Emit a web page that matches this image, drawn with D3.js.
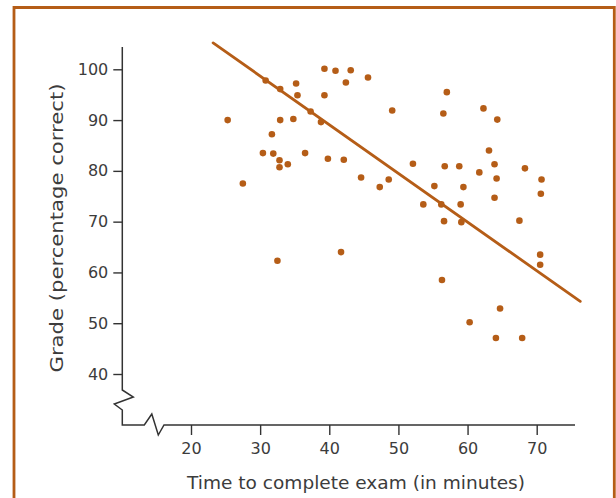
<!DOCTYPE html>
<html><head><meta charset="utf-8">
<script src="https://cdn.jsdelivr.net/npm/d3@7"></script>
<style>
html,body{margin:0;padding:0;background:#fff;}
svg{display:block;}
text{font-family:"DejaVu Sans",sans-serif;fill:#3c3c3c;}
</style></head>
<body>
<script>
const timeMinutes = [25.3,27.5,30.4,30.8,31.7,31.9,32.5,32.8,32.8,32.9,32.9,34.0,34.8,35.2,35.4,36.5,37.3,38.8,39.3,39.3,39.8,40.9,41.7,42.1,42.4,43.1,44.6,45.6,47.3,48.6,49.1,52.1,53.6,55.2,56.2,56.3,56.5,56.6,56.7,57.0,58.8,59.0,59.1,59.4,60.3,61.7,62.3,63.1,63.9,63.9,64.1,64.2,64.3,64.7,67.5,67.9,68.3,70.5,70.5,70.6,70.7];
const grades = [90.0,77.5,83.5,97.8,87.2,83.4,62.3,82.1,80.7,96.1,90.0,81.3,90.2,97.2,94.9,83.5,91.7,89.6,100.1,94.9,82.4,99.7,64.0,82.2,97.4,99.8,78.7,98.4,76.8,78.3,91.9,81.4,73.4,77.0,73.4,58.5,91.3,70.1,80.9,95.5,80.9,73.4,69.9,76.8,50.2,79.7,92.3,84.0,81.3,74.7,47.1,78.5,90.1,52.9,70.2,47.1,80.5,63.5,61.5,75.5,78.3];
const fitX = [23.2, 76.3];
const fitY = [105.2, 54.3];
const xTicks = [20,30,40,50,60,70];
const yTicks = [40,50,60,70,80,90,100];
const xTitle = "Time to complete exam (in minutes)";
const yTitle = "Grade (percentage correct)";

const W = 616, H = 498;
const accent = "#b55d17", ink = "#333", txt = "#3c3c3c";
const svg = d3.select("body").append("svg").attr("width", W).attr("height", H);

// frame
svg.append("path").attr("d", `M14,${H+5} L14,7.5 L614.3,7.5 L614.3,${H+5}`)
  .attr("fill","none").attr("stroke", accent).attr("stroke-width", 2.8);

const x = d3.scaleLinear().domain([20,70]).range([191, 536.7]);
const y = d3.scaleLinear().domain([40,100]).range([374, 69.3]);

const x0 = 122.3, yBase = 425;

// y axis
const gy = svg.append("g").attr("transform", `translate(${x0},0)`)
  .call(d3.axisLeft(y).tickValues(yTicks).tickSize(9).tickPadding(5).tickFormat(d3.format("d")));
gy.select(".domain").remove();
gy.selectAll(".tick line").attr("stroke", ink).attr("stroke-width", 1.4);
gy.selectAll(".tick text").style("font-size","16px").attr("fill", txt).style("font-family","'DejaVu Sans', sans-serif");

// x axis
const gx = svg.append("g").attr("transform", `translate(0,${yBase})`)
  .call(d3.axisBottom(x).tickValues(xTicks).tickSize(10).tickPadding(8).tickFormat(d3.format("d")));
gx.select(".domain").remove();
gx.selectAll(".tick line").attr("stroke", ink).attr("stroke-width", 1.4);
gx.selectAll(".tick text").style("font-size","16px").attr("fill", txt).style("font-family","'DejaVu Sans', sans-serif");

// axis lines with breaks
const yTop = y(104.4), yBreak = 390;
svg.append("path")
  .attr("d", `M${x0},${yTop} L${x0},${yBreak} L${x0+11},${yBreak+7} L${x0-8},${yBreak+14} L${x0},${yBreak+20} L${x0},${yBase} L${x0+22},${yBase} L${x0+29.5},${yBase-11} L${x0+36},${yBase+10} L${x0+41.7},${yBase} L575,${yBase}`)
  .attr("fill","none").attr("stroke", ink).attr("stroke-width", 1.5).attr("stroke-linejoin","miter");

// regression line
svg.append("line")
  .attr("x1", x(fitX[0])).attr("y1", y(fitY[0]))
  .attr("x2", x(fitX[1])).attr("y2", y(fitY[1]))
  .attr("stroke", accent).attr("stroke-width", 2.8).attr("stroke-linecap","round");

// points
svg.append("g").selectAll("circle").data(timeMinutes.map((t,i)=>[t,grades[i]]))
  .enter().append("circle")
  .attr("cx", d=>x(d[0])).attr("cy", d=>y(d[1])).attr("r", 3.3)
  .attr("fill", accent);

// titles
svg.append("text").attr("x", 356).attr("y", 489).attr("text-anchor","middle")
  .attr("textLength", 338).attr("lengthAdjust","spacingAndGlyphs")
  .style("font-size","17px").text(xTitle);
svg.append("text").attr("transform", `translate(63,228) rotate(-90)`).attr("text-anchor","middle")
  .attr("textLength", 289).attr("lengthAdjust","spacingAndGlyphs")
  .style("font-size","17px").text(yTitle);
</script>
</body></html>
